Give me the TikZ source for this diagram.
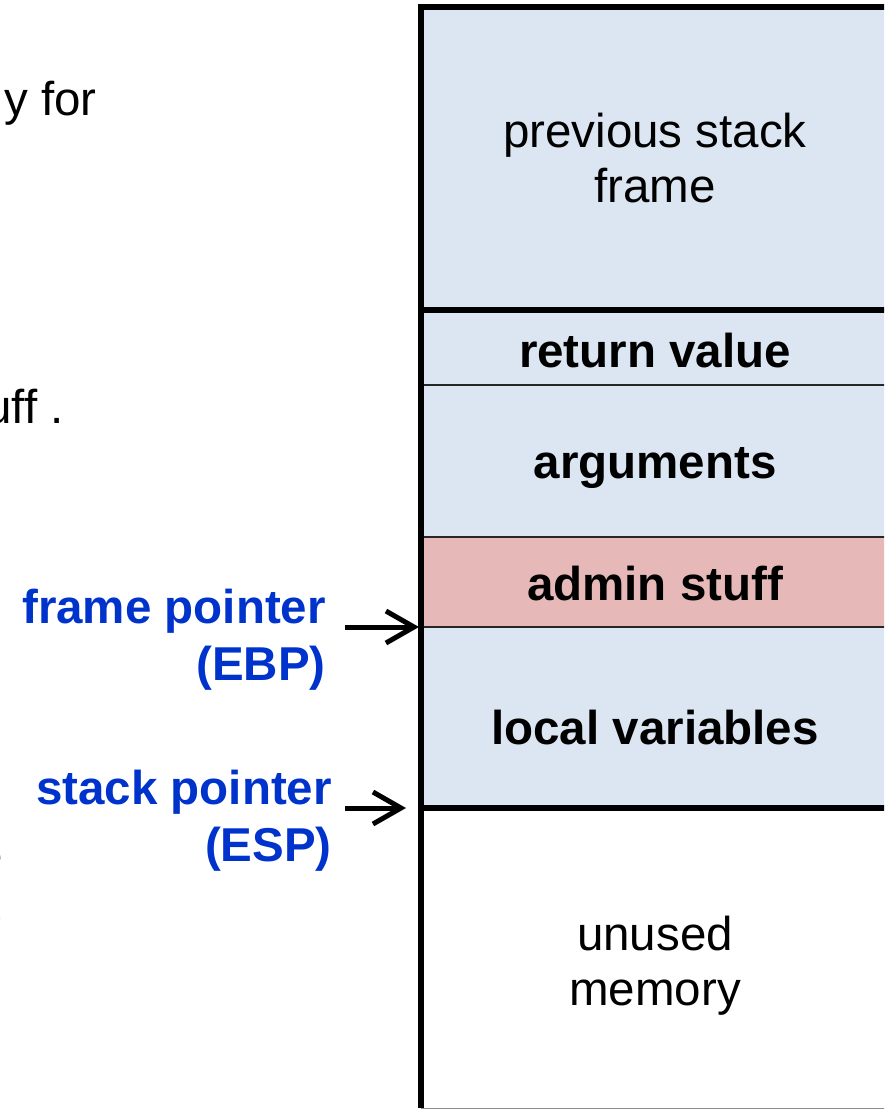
\documentclass[tikz,border=0pt]{standalone}
\usepackage{fontspec}
\setmainfont{Liberation Sans}
\usetikzlibrary{arrows.meta}
\definecolor{cellblue}{HTML}{DCE6F2}
\definecolor{cellpink}{HTML}{E6B9B8}
\definecolor{ptrblue}{HTML}{0033CC}
\begin{document}
\begin{tikzpicture}[x=1pt,y=-1pt,
  cell/.style={draw=none, inner sep=0pt, minimum width=470pt, anchor=north west},
  lbl/.style={inner sep=0pt, font=\fontsize{47.5}{55}\selectfont, align=center, anchor=base},
  blbl/.style={lbl, font=\fontsize{47.5}{55}\selectfont\bfseries},
  ptr/.style={inner sep=0pt, font=\fontsize{47.5}{57}\selectfont\bfseries, text=ptrblue, align=right, anchor=base east},
  frag/.style={inner sep=0pt, font=\fontsize{47.5}{55}\selectfont, anchor=base east},
  thick line/.style={line width=6pt},
  thin line/.style={line width=1.8pt, draw=black!85},
  arr/.style={line width=5pt, -{Straight Barb[length=28pt, width=32pt]}}
]
\useasboundingbox (0,0) rectangle (884,1110);
\clip (0,0) rectangle (884,1110);
% cells
\node[cell, fill=cellblue, minimum height=303pt] (cprev) at (421,7) {};
\node[cell, fill=cellblue, minimum height=75pt] (cret) at (421,310) {};
\node[cell, fill=cellblue, minimum height=152pt] (cargs) at (421,385) {};
\node[cell, fill=cellpink, minimum height=90pt] (cadmin) at (421,537) {};
\node[cell, fill=cellblue, minimum height=181pt] (clocal) at (421,627) {};
\node[cell, fill=white, minimum height=300pt] (cunused) at (421,808) {};
% separators
\draw[thin line] (cargs.north west) -- (cargs.north east);
\draw[thin line] (cadmin.north west) -- (cadmin.north east);
\draw[thin line] (clocal.north west) -- (clocal.north east);
\draw[thick line] (cret.north west) -- (cret.north east);
\draw[thick line] (cunused.north west) -- (cunused.north east);
\draw[line width=1.5pt, draw=black!45] (421,1108.5) -- (900,1108.5);
\draw[thick line] (421,1108) -- (421,7) -- (900,7);
% texts in cells
\node[lbl] (tprev) at (655,203) {previous stack\\frame};
\node[blbl] (tret) at (655,367) {return value};
\node[blbl] (targs) at (655,478) {arguments};
\node[blbl] (tadmin) at (655,600) {admin stuff};
\node[blbl] (tlocal) at (655,744) {local variables};
\node[lbl] (tunused) at (655,1005) {unused\\memory};
% pointer labels
\node[ptr] (fp) at (326,680) {frame pointer\\(EBP)};
\node[ptr] (sp) at (332,861) {stack pointer\\(ESP)};
\coordinate (fpTail) at (345,627);
\coordinate (fpTip) at (419,627);
\coordinate (spTail) at (345,808);
\coordinate (spTip) at (406,808);
\draw[arr] (fpTail) -- (fpTip);
\draw[arr] (spTail) -- (spTip);
% cut-off slide text at the left edge
\node[frag] (f1) at (97,116) {y for};
\node[frag] (f2) at (64,423) {uff .};
\node[frag] (f3) at (3,871) {e};
\node[frag] (f4) at (2,942) {r};
\end{tikzpicture}
\end{document}
